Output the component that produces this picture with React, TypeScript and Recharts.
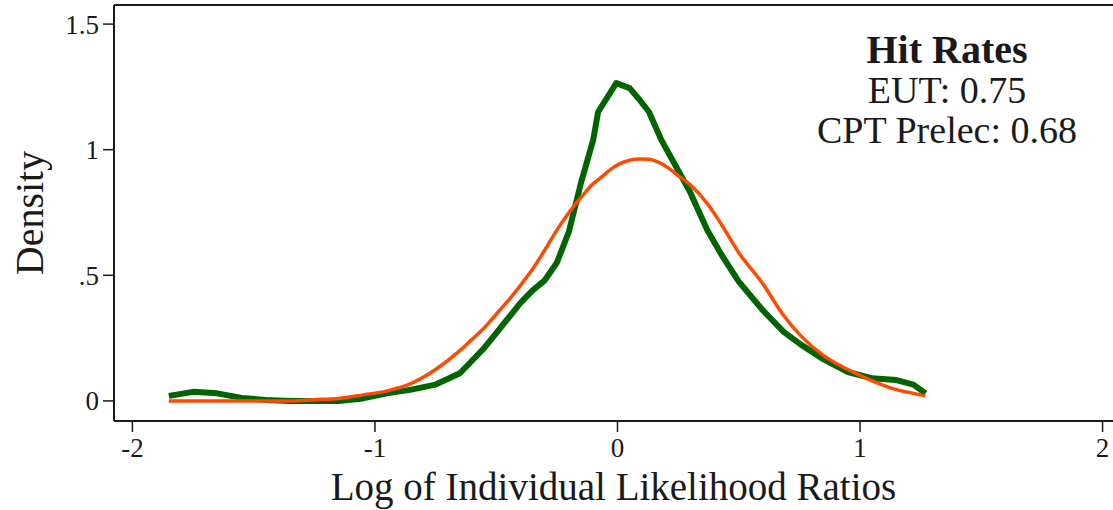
import React from 'react';
import { LineChart, Line, XAxis, YAxis, ReferenceLine, Label } from 'recharts';

// log likelihood ratio grid (x) and the two kernel densities
const logRatios = [
  -1.85, -1.75, -1.65, -1.55, -1.45, -1.35, -1.25, -1.15, -1.05, -0.95, -0.85, -0.75, -0.65,
  -0.6, -0.55, -0.5, -0.45, -0.4, -0.35, -0.3, -0.25, -0.2, -0.15, -0.1, -0.08, -0.005, 0.05,
  0.09, 0.13, 0.18, 0.26, 0.3, 0.37, 0.43, 0.5, 0.6, 0.685, 0.755, 0.85, 0.95, 1.05, 1.15,
  1.22, 1.27,
];
const eutDensity = [
  0.02, 0.036, 0.03, 0.012, 0.004, 0.0, 0.0, 0.0, 0.01, 0.03, 0.045, 0.065, 0.11,
  0.16, 0.21, 0.27, 0.33, 0.39, 0.44, 0.48, 0.55, 0.675, 0.87, 1.04, 1.15, 1.265, 1.245,
  1.2, 1.15, 1.04, 0.9, 0.83, 0.68, 0.58, 0.475, 0.36, 0.275, 0.225, 0.165, 0.115, 0.09, 0.083,
  0.065, 0.03,
];
const cptDensity = [
  0.0, 0.0, 0.0, 0.0, 0.0, 0.0, 0.005, 0.01, 0.024, 0.04, 0.07, 0.125, 0.2,
  0.245, 0.29, 0.345, 0.4, 0.46, 0.525, 0.6, 0.68, 0.75, 0.81, 0.865, 0.88, 0.937, 0.958,
  0.963, 0.962, 0.945, 0.89, 0.86, 0.786, 0.7, 0.59, 0.465, 0.34, 0.26, 0.18, 0.125, 0.08, 0.045,
  0.03, 0.02,
];

const xTicks = [-2, -1, 0, 1, 2];
const yTicks = [0, 0.5, 1, 1.5];
const hitRates = ['EUT: 0.75', 'CPT Prelec: 0.68'];

const data = logRatios.map((x, i) => ({ x, eut: eutDensity[i], cpt: cptDensity[i] }));

const Y_MIN = -0.08;
const Y_MAX = 1.576;
const FONT = '"Liberation Serif", "DejaVu Serif", serif';
const INK = '#1a1a1a';

const fmtY = (v: number) => (v === 0.5 ? '.5' : String(v));

export default function App() {
  return (
    <div style={{ position: 'absolute', left: 0, top: 0, width: 1113, height: 510, fontFamily: FONT }}>
      <LineChart width={1113} height={510} data={data} margin={{ top: 5, right: 0, bottom: 0, left: 0 }}>
        <XAxis
          dataKey="x"
          type="number"
          domain={[-2.076, 2.043]}
          ticks={xTicks}
          allowDataOverflow
          height={89}
          tickSize={11}
          tickMargin={6}
          axisLine={{ stroke: INK, strokeWidth: 2 }}
          tickLine={{ stroke: INK, strokeWidth: 1.5 }}
          tick={{ fill: INK, fontSize: 27, fontFamily: FONT }}
        >
          <Label
            value="Log of Individual Likelihood Ratios"
            position="insideBottom"
            offset={10}
            style={{ fill: INK, fontSize: 39, fontFamily: FONT }}
          />
        </XAxis>
        <YAxis
          type="number"
          domain={[Y_MIN, Y_MAX]}
          ticks={yTicks}
          allowDataOverflow
          width={114}
          tickSize={11}
          tickMargin={4}
          tickFormatter={fmtY}
          axisLine={{ stroke: INK, strokeWidth: 2 }}
          tickLine={{ stroke: INK, strokeWidth: 1.5 }}
          tick={{ fill: INK, fontSize: 27, fontFamily: FONT }}
        >
          <Label
            value="Density"
            angle={-90}
            position="insideLeft"
            offset={29}
            style={{ fill: INK, fontSize: 40, fontFamily: FONT, textAnchor: 'middle' }}
          />
        </YAxis>
        <ReferenceLine y={Y_MAX} stroke={INK} strokeWidth={2} ifOverflow="extendDomain" />
        <Line
          dataKey="eut"
          type="linear"
          stroke="#006400"
          strokeWidth={6}
          strokeLinejoin="round"
          dot={false}
          isAnimationActive={false}
        />
        <Line
          dataKey="cpt"
          type="monotone"
          stroke="#ff4a00"
          strokeWidth={3.5}
          dot={false}
          isAnimationActive={false}
        />
      </LineChart>
      <div
        style={{
          position: 'absolute',
          left: 780,
          top: 30,
          width: 334,
          textAlign: 'center',
          color: INK,
          fontSize: 38,
          lineHeight: '40px',
        }}
      >
        <div style={{ fontWeight: 'bold', fontSize: 40 }}>Hit Rates</div>
        {hitRates.map((t) => (
          <div key={t}>{t}</div>
        ))}
      </div>
    </div>
  );
}
